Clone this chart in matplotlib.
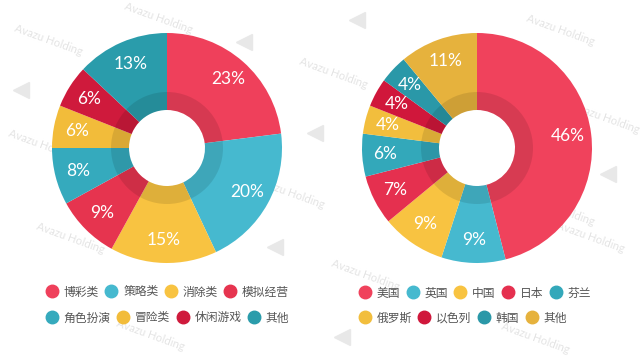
import matplotlib.pyplot as plt
from matplotlib.lines import Line2D

plt.rcParams['font.family'] = ['Noto Sans CJK SC', 'DejaVu Sans']

# left chart: game categories
game_labels = ["博彩类", "策略类", "消除类", "模拟经营", "角色扮演", "冒险类", "休闲游戏", "其他"]
game_values = [23, 20, 15, 9, 8, 6, 6, 13]
game_colors = ["#EF405B", "#46B9CF", "#F8C341", "#E6344F", "#35AABD", "#F2BC3A", "#CF1A3C", "#2A9CAB"]

# right chart: countries
country_labels = ["美国", "英国", "中国", "日本", "芬兰", "俄罗斯", "以色列", "韩国", "其他"]
country_values = [46, 9, 9, 7, 6, 4, 4, 4, 11]
country_colors = ["#F0425C", "#46B9CF", "#F8C341", "#E5304F", "#33A8BA", "#F2BE3D", "#D0173B", "#2A98A8", "#E6B23D"]

W, H = 640, 356
fig = plt.figure(figsize=(6.4, 3.56), dpi=100)
ax = fig.add_axes([0, 0, 1, 1])
ax.set_xlim(0, W)
ax.set_ylim(0, H)
ax.axis('off')

# faint watermarks
wm_text = [(48, 40), (158, 18), (333, 73), (290, 193), (70, 238), (42, 145), (560, 30),
           (605, 118), (590, 237), (365, 275), (150, 335), (535, 338), (225, 100), (560, 210)]
for x, y in wm_text:
    ax.text(x, H - y, "Avazu Holding", rotation=-20, ha='center', va='center',
            fontsize=8, color='#e4e4e4', family='Lato', zorder=0)
wm_icons = [(357, 20), (315, 133), (275, 247), (608, 174), (21, 90), (244, 42), (342, 337)]
for x, y in wm_icons:
    ax.plot(x, H - y, marker='<', markersize=11, color='#e8e8e8', zorder=0)

R, R_HOLE, R_SHADE = 115, 38, 56


def donut(values, colors, cx, cy):
    center = (cx, H - cy)
    wedges, texts, autotexts = ax.pie(
        values, colors=colors, center=center, radius=R, startangle=90,
        counterclock=False, autopct=lambda p: f"{p:.0f}%", pctdistance=0.8,
        wedgeprops=dict(width=R - R_HOLE, linewidth=0),
        textprops=dict(color='white', fontsize=12.5, family='Lato'))
    # darker ring around the hole
    ax.pie([1], colors=['black'], center=center, radius=R_SHADE,
           wedgeprops=dict(width=R_SHADE - R_HOLE, linewidth=0, alpha=0.1))


donut(game_values, game_colors, 167, 148)
donut(country_values, country_colors, 477, 148)
ax.set_xlim(0, W)
ax.set_ylim(0, H)
ax.set_aspect('equal')


def legend_row(labels, colors, x, y):
    handles = [Line2D([], [], marker='o', linestyle='', markersize=9,
                      markerfacecolor=c, markeredgecolor=c) for c in colors]
    leg = fig.legend(handles, labels, loc='center left', bbox_to_anchor=(x / W, 1 - y / H),
                     ncol=len(labels), frameon=False, fontsize=8.5, handlelength=1.0,
                     handletextpad=0.5, columnspacing=0.55, borderpad=0, borderaxespad=0)
    for t in leg.get_texts():
        t.set_color('#555555')


legend_row(game_labels[:4], game_colors[:4], 46, 292)
legend_row(game_labels[4:], game_colors[4:], 46, 318)
legend_row(country_labels[:5], country_colors[:5], 359, 293)
legend_row(country_labels[5:], country_colors[5:], 359, 318)

fig.savefig("out.png", dpi=100, facecolor='white')
